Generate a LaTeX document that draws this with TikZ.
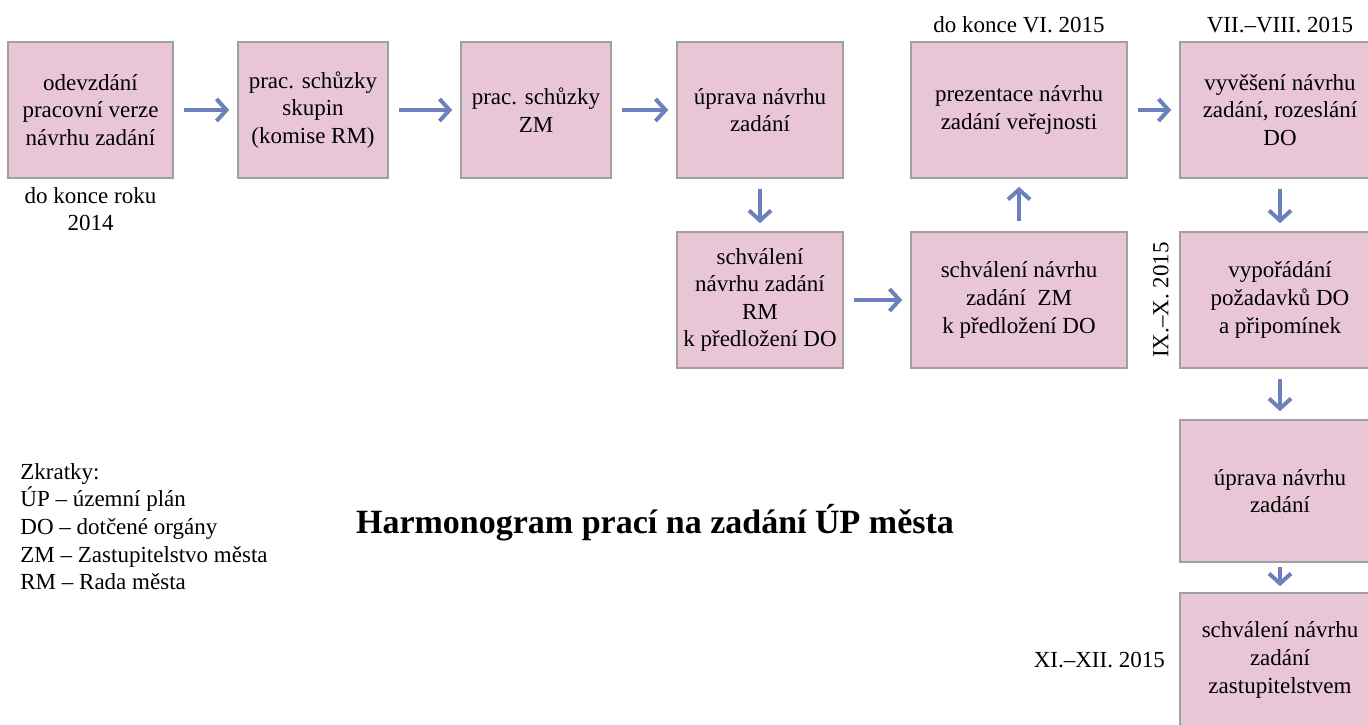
\documentclass[tikz,border=0pt]{standalone}
\usepackage{fontspec}
\setmainfont{Liberation Serif}
\usetikzlibrary{arrows.meta,positioning}
\definecolor{boxpink}{RGB}{233,198,214}
\definecolor{boxline}{RGB}{160,160,160}
\definecolor{arrowblue}{RGB}{108,128,188}
\tikzstyle{krok} = [draw=boxline, fill=boxpink, line width=0.8pt, rectangle, align=center, minimum height=68pt, inner sep=2pt, font=\fontsize{11.5}{13.8}\selectfont]
\tikzstyle{sipka} = [-{Straight Barb[length=5pt,width=11pt]}, line width=2pt, draw=arrowblue, shorten <=5pt, shorten >=4pt]
\tikzstyle{termin} = [align=center, inner sep=1pt, font=\fontsize{11.5}{13.8}\selectfont]

\begin{document}
\begin{tikzpicture}[x=0.5pt,y=-0.5pt]
	\useasboundingbox (0,0) rectangle (1368,724);
	\clip (0,0) rectangle (1368,724);
	% horni rada
	\node [krok, minimum width=82.5pt] (odevzdani) at (90.5,110) {odevzdání\\pracovní verze\\návrhu zadání};
	\node [krok, minimum width=75pt] (skupiny) at (313,110) {prac. schůzky\\skupin\\(komise RM)};
	\node [krok, minimum width=75pt] (schuzkyZM) at (536,110) {prac. schůzky\\ZM};
	\node [krok, minimum width=83pt] (uprava) at (760,110) {úprava návrhu\\zadání};
	\node [krok, minimum width=108pt] (prezentace) at (1019,110) {prezentace návrhu\\zadání veřejnosti};
	\node [krok, minimum width=100pt] (vyveseni) at (1280,110) {vyvěšení návrhu\\zadání, rozeslání\\DO};
	% druha rada
	\node [krok, minimum width=83pt] (schvaleniRM) at (760,300) {schválení\\návrhu zadání\\RM\\k předložení DO};
	\node [krok, minimum width=108pt] (schvaleniZM) at (1019,300) {schválení návrhu\\zadání~~ZM\\k předložení DO};
	% pravy sloupec
	\node [krok, minimum width=100pt] (vyporadani) at (1280,300) {vypořádání\\požadavků DO\\a připomínek};
	\node [krok, minimum width=100pt, minimum height=71pt] (upravaDruha) at (1280,491) {úprava návrhu\\zadání};
	\node [krok, minimum width=100pt, minimum height=67pt] (schvaleniZast) at (1280,660) {schválení návrhu\\zadání\\zastupitelstvem};

	% terminy
	\node [termin, below=3pt] at (odevzdani.south) {do konce roku\\2014};
	\node [termin, above=3pt] at (prezentace.north) {do konce VI. 2015};
	\node [termin, above=3pt] at (vyveseni.north) {VII.–VIII. 2015};
	\node [termin, rotate=90, anchor=south] at ([xshift=-4pt]vyporadani.west) {IX.–X. 2015};
	\node [termin, left=6pt] at (schvaleniZast.west) {XI.–XII. 2015};

	% sipky
	\draw [sipka] (odevzdani) -- (skupiny);
	\draw [sipka] (skupiny) -- (schuzkyZM);
	\draw [sipka] (schuzkyZM) -- (uprava);
	\draw [sipka] (uprava) -- (schvaleniRM);
	\draw [sipka] (schvaleniRM) -- (schvaleniZM);
	\draw [sipka] (schvaleniZM) -- (prezentace);
	\draw [sipka] (prezentace) -- (vyveseni);
	\draw [sipka] (vyveseni) -- (vyporadani);
	\draw [sipka] (vyporadani) -- (upravaDruha);
	\draw [sipka, shorten <=2pt, shorten >=3pt] (upravaDruha) -- (schvaleniZast);

	% legenda a nadpis
	\node [termin, anchor=north west, align=left] (zkratky) at (18,461) {Zkratky:\\ÚP – územní plán\\DO – dotčené orgány\\ZM – Zastupitelstvo města\\RM – Rada města};
	\node [font=\fontsize{17}{20}\bfseries] (nadpis) at (655,523) {Harmonogram prací na zadání ÚP města};
\end{tikzpicture}
\end{document}
